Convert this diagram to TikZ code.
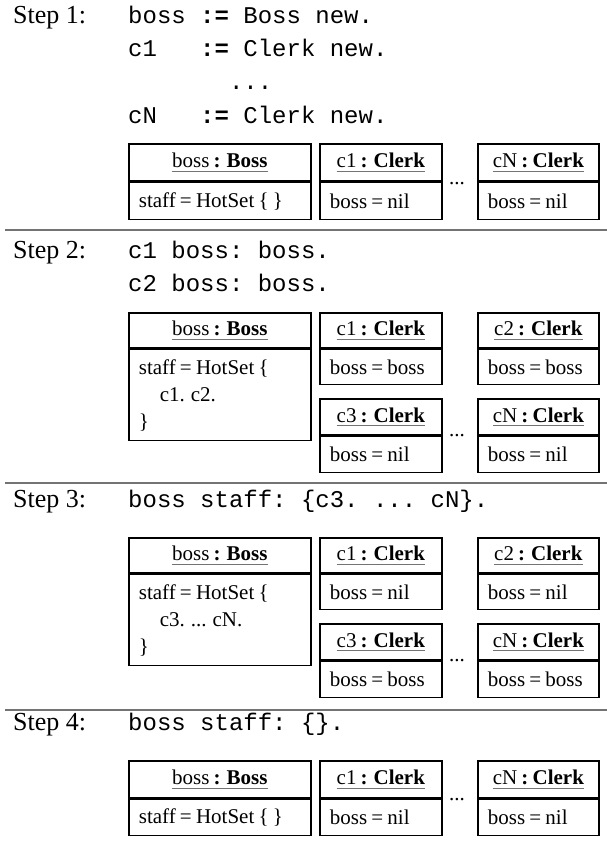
\documentclass[tikz,border=0pt]{standalone}
\usepackage{fontspec}
\setmainfont{Liberation Serif}
\setmonofont{Liberation Mono}
\usetikzlibrary{positioning}

\definecolor{rulegray}{gray}{0.45}
\newsavebox{\titlebox}
\newcommand{\objtitle}[2]{\sbox{\titlebox}{#1\textbf{ : #2}}%
  \rlap{\textcolor{rulegray}{\rule[-4pt]{\wd\titlebox}{1.1pt}}}\usebox{\titlebox}}
\newcommand{\boxfont}{\fontsize{21}{27}\selectfont\spaceskip=0.2em\relax}
\newcommand{\stepfont}{\fontsize{26}{30}\selectfont}
\newcommand{\codefont}{\ttfamily\fontsize{24}{33}\selectfont}

\tikzset{
  box/.style={draw, line width=1.7pt, anchor=north west, inner sep=0pt, font=\boxfont},
  head/.style={box, align=center},
  body/.style={box, align=flush left, inner xsep=10pt},
  steplabel/.style={anchor=base west, inner sep=0pt, font=\stepfont},
  code/.style={anchor=base west, inner sep=0pt, font=\codefont},
  gap/.style={anchor=base, inner sep=0pt, font=\boxfont},
  sep/.style={draw=rulegray, line width=1.3pt}
}

\begin{document}
\begin{tikzpicture}[x=1pt, y=-1pt]
    \useasboundingbox (0,0) rectangle (607,845);

    % step 1
    \node[steplabel] (step1) at (13,24) {Step 1:};
    \node[code] (s1code1) at (128,24) {boss \textbf{:=} Boss new.};
    \node[code] (s1code2) at (128,57) {c1~~~\textbf{:=} Clerk new.};
    \node[code] (s1code3) at (128,90) {\phantom{c1~~~:=}...};
    \node[code] (s1code4) at (128,124) {cN~~~\textbf{:=} Clerk new.};
    \node[head, minimum width=182pt, minimum height=37pt] (s1boss) at (128,143) {\objtitle{boss}{Boss}};
    \node[body, text width=162pt, minimum height=37pt] (s1bossb) at (s1boss.south west) {staff = HotSet \{ \}};
    \node[head, minimum width=122pt, minimum height=37pt] (s1c1) at (319,143) {\objtitle{c1}{Clerk}};
    \node[body, text width=102pt, minimum height=37pt] (s1c1b) at (s1c1.south west) {boss = nil};
    \node[head, minimum width=121pt, minimum height=37pt] (s1cN) at (477,143) {\objtitle{cN}{Clerk}};
    \node[body, text width=101pt, minimum height=37pt] (s1cNb) at (s1cN.south west) {boss = nil};
    \node[gap] (s1dots) at (457,184) {...};
    \draw[sep] (5,230) -- (607,230);

    % step 2
    \node[steplabel] (step2) at (13,258) {Step 2:};
    \node[code] (s2code1) at (128,258) {c1 boss: boss.};
    \node[code] (s2code2) at (128,291) {c2 boss: boss.};
    \node[head, minimum width=182pt, minimum height=35pt] (s2boss) at (128,312) {\objtitle{boss}{Boss}};
    \node[body, text width=162pt, minimum height=91pt] (s2bossb) at (s2boss.south west)
        {staff = HotSet \{\\\hspace*{21pt}c1. c2.\\\}};
    \node[head, minimum width=122pt, minimum height=35pt] (s2c1) at (319,312) {\objtitle{c1}{Clerk}};
    \node[body, text width=102pt, minimum height=35pt] (s2c1b) at (s2c1.south west) {boss = boss};
    \node[head, minimum width=121pt, minimum height=35pt] (s2c2) at (477,312) {\objtitle{c2}{Clerk}};
    \node[body, text width=101pt, minimum height=35pt] (s2c2b) at (s2c2.south west) {boss = boss};
    \node[head, minimum width=122pt, minimum height=36pt] (s2c3) at (319,398) {\objtitle{c3}{Clerk}};
    \node[body, text width=102pt, minimum height=36pt] (s2c3b) at (s2c3.south west) {boss = nil};
    \node[head, minimum width=121pt, minimum height=36pt] (s2cN) at (477,398) {\objtitle{cN}{Clerk}};
    \node[body, text width=101pt, minimum height=36pt] (s2cNb) at (s2cN.south west) {boss = nil};
    \node[gap] (s2dots) at (457,436) {...};
    \draw[sep] (5,483) -- (607,483);

    % step 3
    \node[steplabel] (step3) at (13,507) {Step 3:};
    \node[code] (s3code1) at (128,507) {boss staff: \{c3. ... cN\}.};
    \node[head, minimum width=182pt, minimum height=35pt] (s3boss) at (128,537) {\objtitle{boss}{Boss}};
    \node[body, text width=162pt, minimum height=91pt] (s3bossb) at (s3boss.south west)
        {staff = HotSet \{\\\hspace*{21pt}c3. ... cN.\\\}};
    \node[head, minimum width=122pt, minimum height=35pt] (s3c1) at (319,537) {\objtitle{c1}{Clerk}};
    \node[body, text width=102pt, minimum height=35pt] (s3c1b) at (s3c1.south west) {boss = nil};
    \node[head, minimum width=121pt, minimum height=35pt] (s3c2) at (477,537) {\objtitle{c2}{Clerk}};
    \node[body, text width=101pt, minimum height=35pt] (s3c2b) at (s3c2.south west) {boss = nil};
    \node[head, minimum width=122pt, minimum height=36pt] (s3c3) at (319,623) {\objtitle{c3}{Clerk}};
    \node[body, text width=102pt, minimum height=36pt] (s3c3b) at (s3c3.south west) {boss = boss};
    \node[head, minimum width=121pt, minimum height=36pt] (s3cN) at (477,623) {\objtitle{cN}{Clerk}};
    \node[body, text width=101pt, minimum height=36pt] (s3cNb) at (s3cN.south west) {boss = boss};
    \node[gap] (s3dots) at (457,661) {...};
    \draw[sep] (5,710) -- (607,710);

    % step 4
    \node[steplabel] (step4) at (13,730) {Step 4:};
    \node[code] (s4code1) at (128,730) {boss staff: \{\}.};
    \node[head, minimum width=182pt, minimum height=37pt] (s4boss) at (128,760) {\objtitle{boss}{Boss}};
    \node[body, text width=162pt, minimum height=36pt] (s4bossb) at (s4boss.south west) {staff = HotSet \{ \}};
    \node[head, minimum width=122pt, minimum height=37pt] (s4c1) at (319,760) {\objtitle{c1}{Clerk}};
    \node[body, text width=102pt, minimum height=36pt] (s4c1b) at (s4c1.south west) {boss = nil};
    \node[head, minimum width=121pt, minimum height=37pt] (s4cN) at (477,760) {\objtitle{cN}{Clerk}};
    \node[body, text width=101pt, minimum height=36pt] (s4cNb) at (s4cN.south west) {boss = nil};
    \node[gap] (s4dots) at (457,800) {...};
\end{tikzpicture}
\end{document}
